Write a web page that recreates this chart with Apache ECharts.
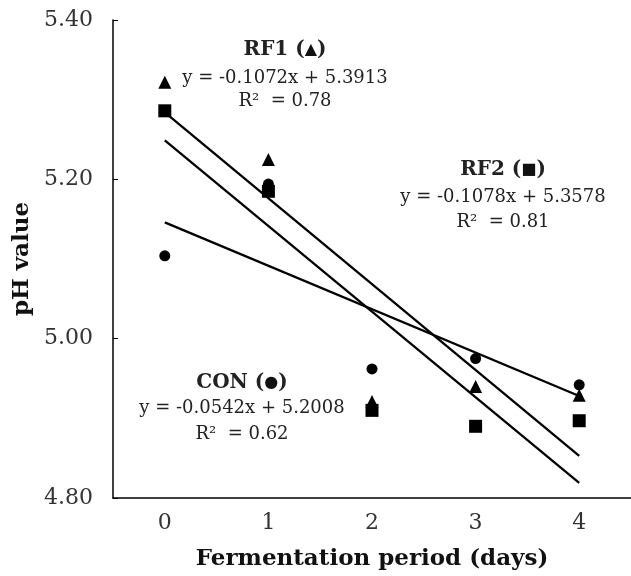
<!DOCTYPE html>
<html>
<head>
<meta charset="utf-8">
<script src="https://cdn.jsdelivr.net/npm/echarts@6/dist/echarts.min.js"></script>
<style>html,body{margin:0;padding:0;background:#fff}#c{width:631px;height:576px}</style>
</head>
<body>
<div id="c"></div>
<script>
var days = ['0', '1', '2', '3', '4'];
var yTicks = [4.80, 5.00, 5.20, 5.40];
var rf1 = [5.322, 5.225, 4.921, 4.940, 4.929];   // triangles
var rf2 = [5.286, 5.185, 4.910, 4.890, 4.897];   // squares
var con = [5.104, 5.194, 4.962, 4.975, 4.942];   // circles
var rf1Trend = [5.284, 4.853];
var rf2Trend = [5.249, 4.819];
var conTrend = [5.146, 4.928];
var titles = { rf1: ['RF1', '\u25B2'], rf2: ['RF2', '\u25A0'], con: ['CON', '\u25CF'] };
var equations = {
  rf1: ['y = -0.1072x + 5.3913', 'R\u00B2  = 0.78'],
  rf2: ['y = -0.1078x + 5.3578', 'R\u00B2  = 0.81'],
  con: ['y = -0.0542x + 5.2008', 'R\u00B2  = 0.62']
};

var chart = echarts.init(document.getElementById('c'));
var serif = 'DejaVu Serif';
function pts(arr) { return arr.map(function (v, i) { return [i, v]; }); }
function trend(t) { return [[0, t[0]], [days.length - 1, t[1]]]; }
function block(title, eq, cx, ys) {
  var out = [{
    type: 'text', x: cx, y: ys[0], z: 10,
    style: {
      text: '{b|' + title[0] + ' (}{s|' + title[1] + '}{b|)}', x: 0, y: 0,
      align: 'center', verticalAlign: 'middle',
      rich: {
        b: { font: 'bold 20px ' + serif, fill: '#222' },
        s: { font: '16px ' + serif, fill: '#111' }
      }
    }
  }];
  eq.forEach(function (s, i) {
    out.push({
      type: 'text', x: cx, y: ys[i + 1], z: 10,
      style: { text: s, x: 0, y: 0, align: 'center', verticalAlign: 'middle',
        font: '18px ' + serif, fill: '#222' }
    });
  });
  return out;
}
var graphics = [].concat(
  block(titles.rf1, equations.rf1, 285, [50, 78, 101]),
  block(titles.rf2, equations.rf2, 503, [170, 197, 222]),
  block(titles.con, equations.con, 242, [383, 408, 434])
);

chart.setOption({
  animation: false,
  grid: { left: 113, right: -7, top: 20, bottom: 76 },
  xAxis: {
    type: 'category', data: days, boundaryGap: true,
    name: 'Fermentation period (days)', nameLocation: 'middle', nameGap: 50,
    nameTextStyle: { fontFamily: serif, fontWeight: 'bold', fontSize: 23, color: '#111' },
    axisLine: { lineStyle: { color: '#000', width: 1.5 } },
    axisTick: { inside: true, length: 5, lineStyle: { color: '#000' } },
    axisLabel: { fontFamily: serif, fontSize: 22, color: '#333', margin: 14 },
    splitLine: { show: false }
  },
  yAxis: {
    type: 'value', min: yTicks[0], max: yTicks[yTicks.length - 1], interval: 0.2,
    name: 'pH value', nameLocation: 'middle', nameGap: 78,
    nameTextStyle: { fontFamily: serif, fontWeight: 'bold', fontSize: 23, color: '#111' },
    axisLine: { show: true, lineStyle: { color: '#000', width: 1.5 } },
    axisTick: { show: true, inside: true, length: 5, lineStyle: { color: '#000' } },
    axisLabel: { fontFamily: serif, fontSize: 22, color: '#333', margin: 20,
      formatter: function (v) { return v.toFixed(2); } },
    splitLine: { show: false }
  },
  graphic: graphics,
  series: [
    { type: 'line', data: trend(rf1Trend), symbol: 'none', lineStyle: { color: '#000', width: 2.3 }, z: 2 },
    { type: 'line', data: trend(rf2Trend), symbol: 'none', lineStyle: { color: '#000', width: 2.3 }, z: 2 },
    { type: 'line', data: trend(conTrend), symbol: 'none', lineStyle: { color: '#000', width: 2.3 }, z: 2 },
    { type: 'scatter', data: pts(rf1), symbol: 'triangle', symbolSize: 13, itemStyle: { color: '#000', opacity: 1 }, z: 3 },
    { type: 'scatter', data: pts(rf2), symbol: 'rect', symbolSize: 13, itemStyle: { color: '#000', opacity: 1 }, z: 3 },
    { type: 'scatter', data: pts(con), symbol: 'circle', symbolSize: 11, itemStyle: { color: '#000', opacity: 1 }, z: 3 }
  ]
});
</script>
</body>
</html>
